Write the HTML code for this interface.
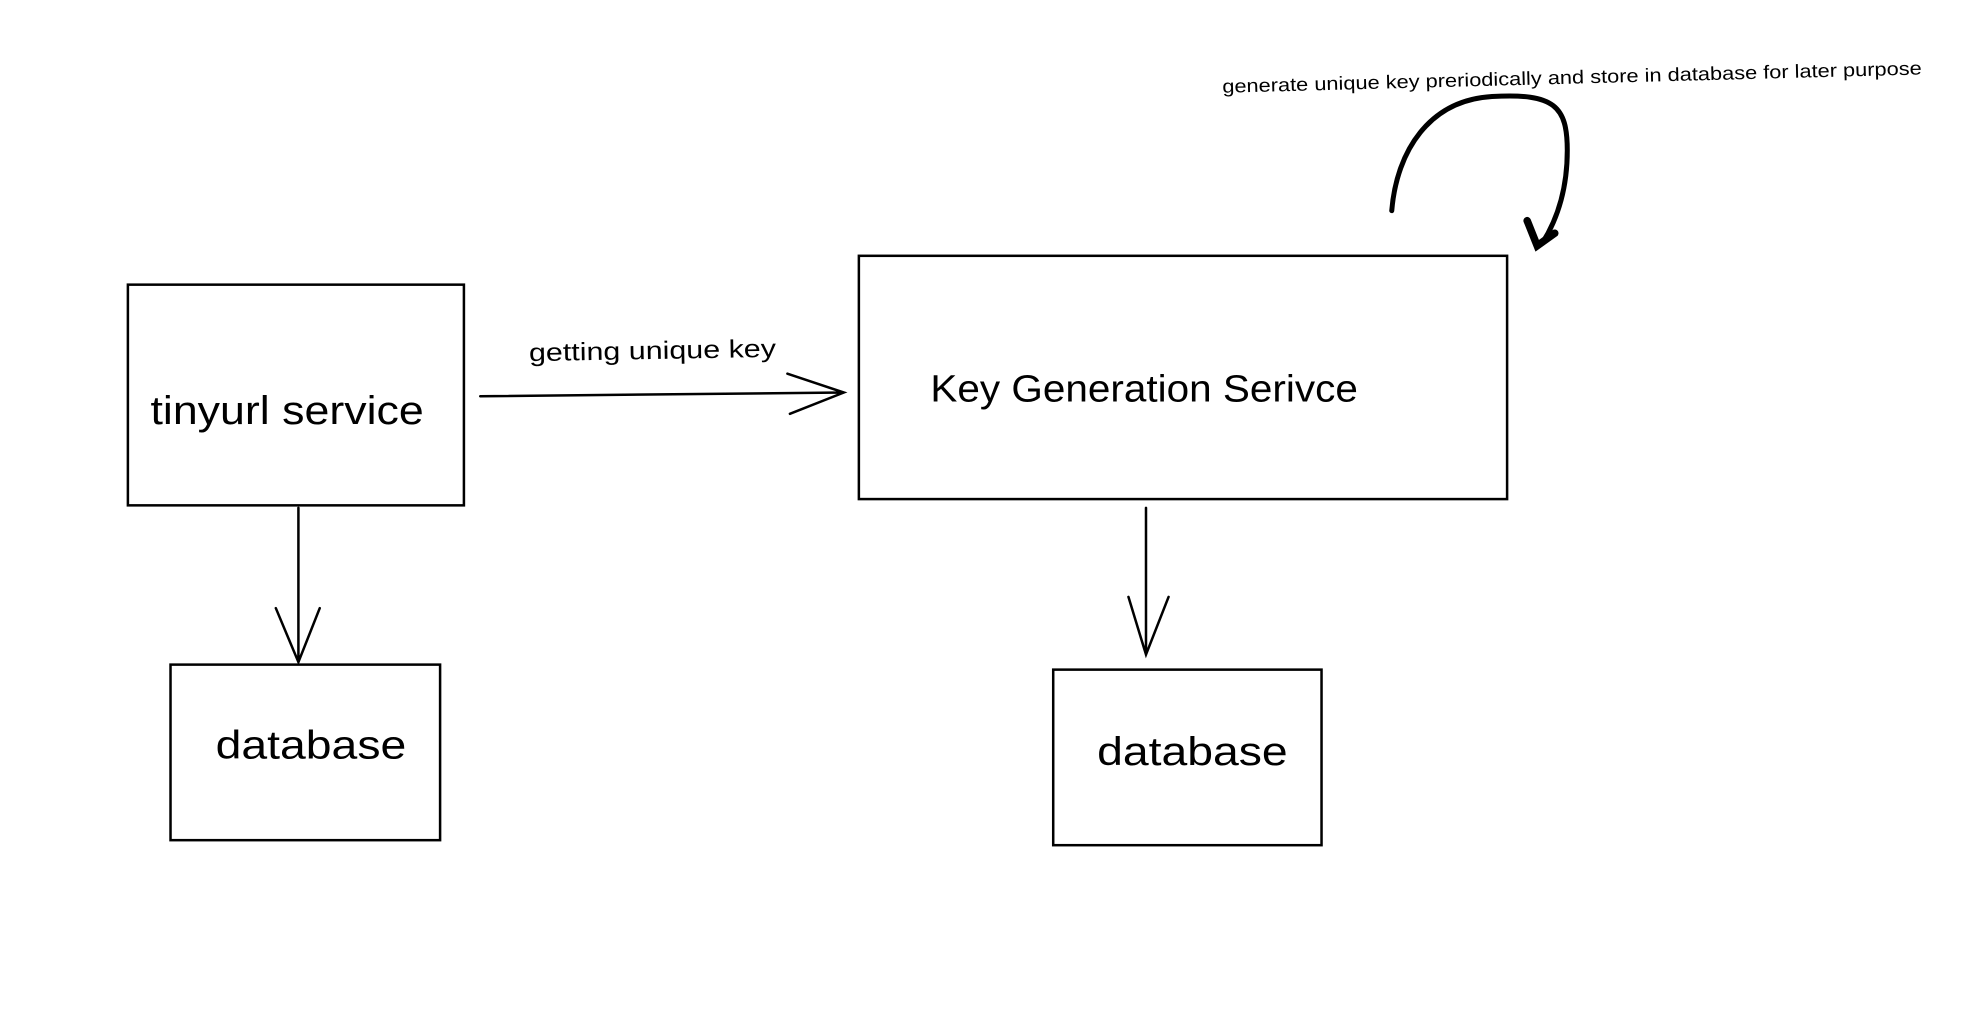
<!DOCTYPE html>
<html><head><meta charset="utf-8"><style>
html,body{margin:0;padding:0;background:#fff;}
svg{display:block;}
text{font-family:"Liberation Sans",sans-serif;fill:#000;}
</style></head><body>
<svg width="1966" height="1022" viewBox="0 0 1568 815" preserveAspectRatio="none" xmlns="http://www.w3.org/2000/svg">
<rect width="1568" height="815" fill="#fff"/>
<g fill="none" stroke="#000" stroke-width="2" stroke-linecap="round">
<rect x="102" y="227" width="268" height="176"/>
<rect x="685" y="204" width="517" height="194"/>
<rect x="136" y="530" width="215" height="140"/>
<rect x="840" y="534" width="214" height="140"/>
<path d="M383 316 L673 313 M628 298 L673 313 L630 330"/>
<path d="M238 405 L238 528 M220 485 L238 528 L255 485"/>
<path d="M914 405 L914 522 M900 476 L914 522 L932 476"/>
<path d="M1110 168 C1114 120 1140 80 1190 77 C1240 74 1250 85 1250 120 C1250 150 1242 175 1230 194" stroke-width="4"/>
<path d="M1218 176 L1226 196 L1240 186" stroke-width="6"/>
</g>
<text x="120" y="338" font-size="32" textLength="218" lengthAdjust="spacingAndGlyphs">tinyurl service</text>
<text x="742" y="320" font-size="30" textLength="341" lengthAdjust="spacingAndGlyphs">Key Generation Serivce</text>
<text x="172" y="605" font-size="32" textLength="152" lengthAdjust="spacingAndGlyphs">database</text>
<text x="875" y="610" font-size="32" textLength="152" lengthAdjust="spacingAndGlyphs">database</text>
<text x="422" y="288" font-size="20" textLength="197" lengthAdjust="spacingAndGlyphs" transform="rotate(-1 422 288)">getting unique key</text>
<text x="975" y="74" font-size="15" textLength="558" lengthAdjust="spacingAndGlyphs" transform="rotate(-1.5 975 74)">generate unique key preriodically and store in database for later purpose</text>
</svg>
</body></html>
